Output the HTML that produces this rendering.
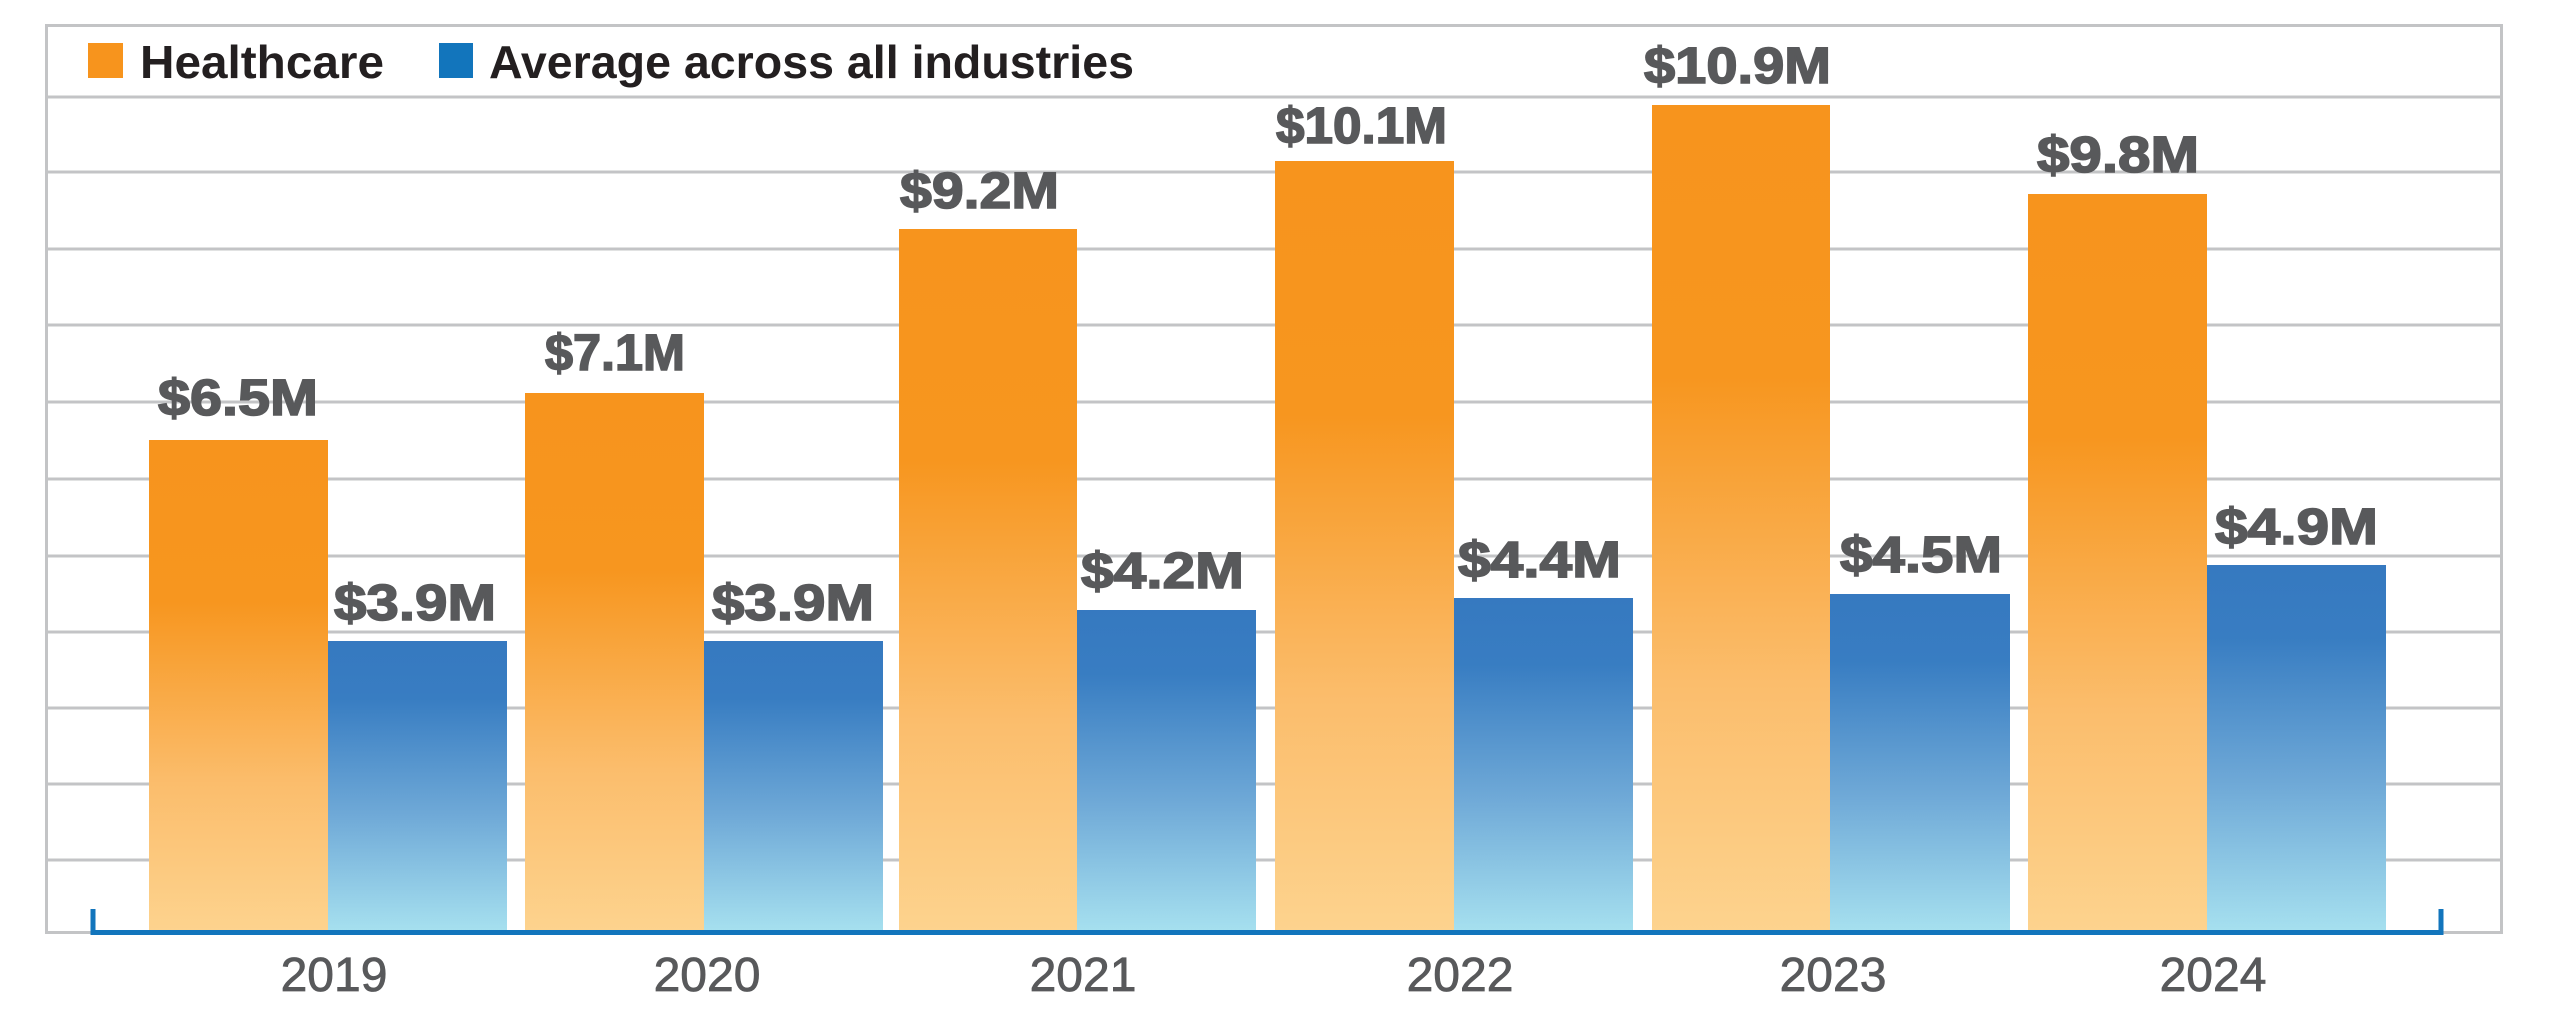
<!DOCTYPE html>
<html><head><meta charset="utf-8"><style>html,body{margin:0;padding:0;background:#fff}svg{display:block}</style></head>
<body>
<svg width="2550" height="1026" viewBox="0 0 2550 1026" xmlns="http://www.w3.org/2000/svg">
<defs>
<linearGradient id="og" x1="0" y1="0" x2="0" y2="1">
<stop offset="0" stop-color="#f7941d"/><stop offset="0.33" stop-color="#f7961f"/><stop offset="0.7" stop-color="#fbbd6c"/><stop offset="1" stop-color="#fdd38e"/>
</linearGradient>
<linearGradient id="bg" x1="0" y1="0" x2="0" y2="1">
<stop offset="0" stop-color="#3679c0"/><stop offset="0.2" stop-color="#387dc2"/><stop offset="0.6" stop-color="#6fa9d7"/><stop offset="1" stop-color="#a6e0ef"/>
</linearGradient>
</defs>
<rect x="46.5" y="25.5" width="2455" height="907" fill="#fff" stroke="#c3c4c6" stroke-width="3"/>
<g stroke="#c3c4c6" stroke-width="3">
<line x1="46" y1="97" x2="2502" y2="97"/>
<line x1="46" y1="172" x2="2502" y2="172"/>
<line x1="46" y1="249" x2="2502" y2="249"/>
<line x1="46" y1="325" x2="2502" y2="325"/>
<line x1="46" y1="402" x2="2502" y2="402"/>
<line x1="46" y1="479" x2="2502" y2="479"/>
<line x1="46" y1="556" x2="2502" y2="556"/>
<line x1="46" y1="632" x2="2502" y2="632"/>
<line x1="46" y1="708" x2="2502" y2="708"/>
<line x1="46" y1="784" x2="2502" y2="784"/>
<line x1="46" y1="860" x2="2502" y2="860"/>
</g>
<rect x="88" y="43" width="35" height="35" fill="#f7941d"/>
<text x="140" y="78" font-family="Liberation Sans, sans-serif" font-weight="bold" font-size="46" fill="#231f20" textLength="244" lengthAdjust="spacingAndGlyphs">Healthcare</text>
<rect x="439" y="43" width="34" height="35" fill="#1275bc"/>
<text x="489" y="78" font-family="Liberation Sans, sans-serif" font-weight="bold" font-size="46" fill="#231f20" textLength="645" lengthAdjust="spacingAndGlyphs">Average across all industries</text>
<g>
<rect x="149" y="440" width="179" height="491" fill="url(#og)"/>
<rect x="328" y="641" width="179" height="290" fill="url(#bg)"/>
<rect x="525" y="393" width="179" height="538" fill="url(#og)"/>
<rect x="704" y="641" width="179" height="290" fill="url(#bg)"/>
<rect x="899" y="229" width="178" height="702" fill="url(#og)"/>
<rect x="1077" y="610" width="179" height="321" fill="url(#bg)"/>
<rect x="1275" y="161" width="179" height="770" fill="url(#og)"/>
<rect x="1454" y="598" width="179" height="333" fill="url(#bg)"/>
<rect x="1652" y="105" width="178" height="826" fill="url(#og)"/>
<rect x="1830" y="594" width="180" height="337" fill="url(#bg)"/>
<rect x="2028" y="194" width="179" height="737" fill="url(#og)"/>
<rect x="2207" y="565" width="179" height="366" fill="url(#bg)"/>
</g>
<g font-family="Liberation Sans, sans-serif" font-weight="bold" font-size="51" fill="#58595b" stroke="#58595b" stroke-width="1.6" lengthAdjust="spacingAndGlyphs">
<text x="158" y="415" textLength="160" lengthAdjust="spacingAndGlyphs">$6.5M</text>
<text x="334" y="620" textLength="162" lengthAdjust="spacingAndGlyphs">$3.9M</text>
<text x="545" y="370" textLength="140" lengthAdjust="spacingAndGlyphs">$7.1M</text>
<text x="712" y="620" textLength="162" lengthAdjust="spacingAndGlyphs">$3.9M</text>
<text x="900" y="208" textLength="159" lengthAdjust="spacingAndGlyphs">$9.2M</text>
<text x="1081" y="588" textLength="163" lengthAdjust="spacingAndGlyphs">$4.2M</text>
<text x="1276" y="143" textLength="171" lengthAdjust="spacingAndGlyphs">$10.1M</text>
<text x="1458" y="577" textLength="163" lengthAdjust="spacingAndGlyphs">$4.4M</text>
<text x="1644" y="83" textLength="187" lengthAdjust="spacingAndGlyphs">$10.9M</text>
<text x="1840" y="572" textLength="162" lengthAdjust="spacingAndGlyphs">$4.5M</text>
<text x="2037" y="172" textLength="162" lengthAdjust="spacingAndGlyphs">$9.8M</text>
<text x="2215" y="544" textLength="163" lengthAdjust="spacingAndGlyphs">$4.9M</text>
</g>
<path d="M93 909 V932.5 H2441 V909" fill="none" stroke="#1275bc" stroke-width="5"/>
<g font-family="Liberation Sans, sans-serif" font-size="48" fill="#58595b" stroke="#58595b" stroke-width="0.8" text-anchor="middle">
<text x="334" y="991">2019</text>
<text x="707" y="991">2020</text>
<text x="1083" y="991">2021</text>
<text x="1460" y="991">2022</text>
<text x="1833" y="991">2023</text>
<text x="2213" y="991">2024</text>
</g>
</svg>
</body></html>
